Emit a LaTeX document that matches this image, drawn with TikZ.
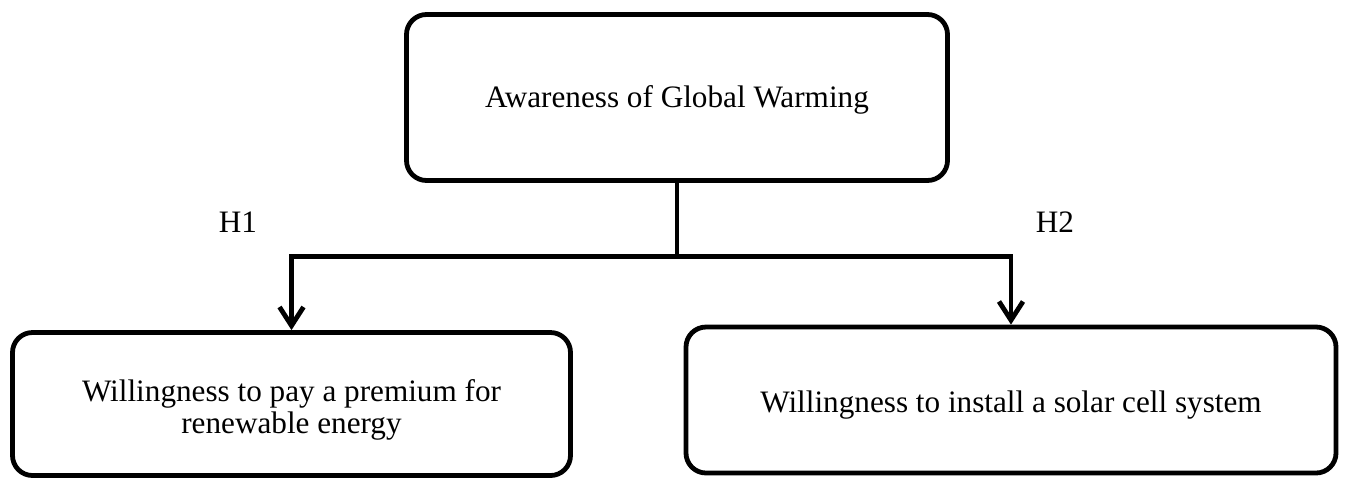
\documentclass[tikz,border=0pt]{standalone}
\usepackage{fontspec}
\setmainfont{Liberation Serif}
\usetikzlibrary{arrows.meta}
\begin{document}
\begin{tikzpicture}[x=0.75pt,y=-0.75pt,
  box/.style={draw=black,line width=3.6pt,rounded corners=15pt,fill=white,inner sep=0pt},
  txt/.style={font=\fontsize{23.4}{24}\selectfont,align=center,inner sep=0pt},
  conn/.style={line width=3.6pt,-{Straight Barb[length=14pt,width=18pt]}},
  lbl/.style={font=\fontsize{23.4}{25}\selectfont,inner sep=0pt}]
\useasboundingbox (0,0) rectangle (1348,480);
\node[box,minimum width={541*0.75pt},minimum height={166*0.75pt}] (top) at (677,97.5) {};
\node[box,minimum width={558*0.75pt},minimum height={143*0.75pt}] (left) at (291.5,404) {};
\node[box,minimum width={650*0.75pt},minimum height={146*0.75pt}] (right) at (1011,400) {};
\node[txt] (toptext) at ([yshift=-1.5pt]top.center) {Awareness of Global Warming};
\node[txt] (lefttext) at ([yshift=-4.5pt]left.center) {Willingness to pay a premium for\\renewable energy};
\node[txt] (righttext) at ([yshift=-3.5pt]right.center) {Willingness to install a solar cell system};
\coordinate (j) at (677,256.5);
\draw[line width=3.6pt] (top.south) -- (j);
\draw[conn] (j) -| (left.north);
\draw[conn] (j) -| (right.north);
\node[lbl,anchor=base] (h1) at (238,232) {H1};
\node[lbl,anchor=base] (h2) at (1055,232) {H2};
\end{tikzpicture}
\end{document}
